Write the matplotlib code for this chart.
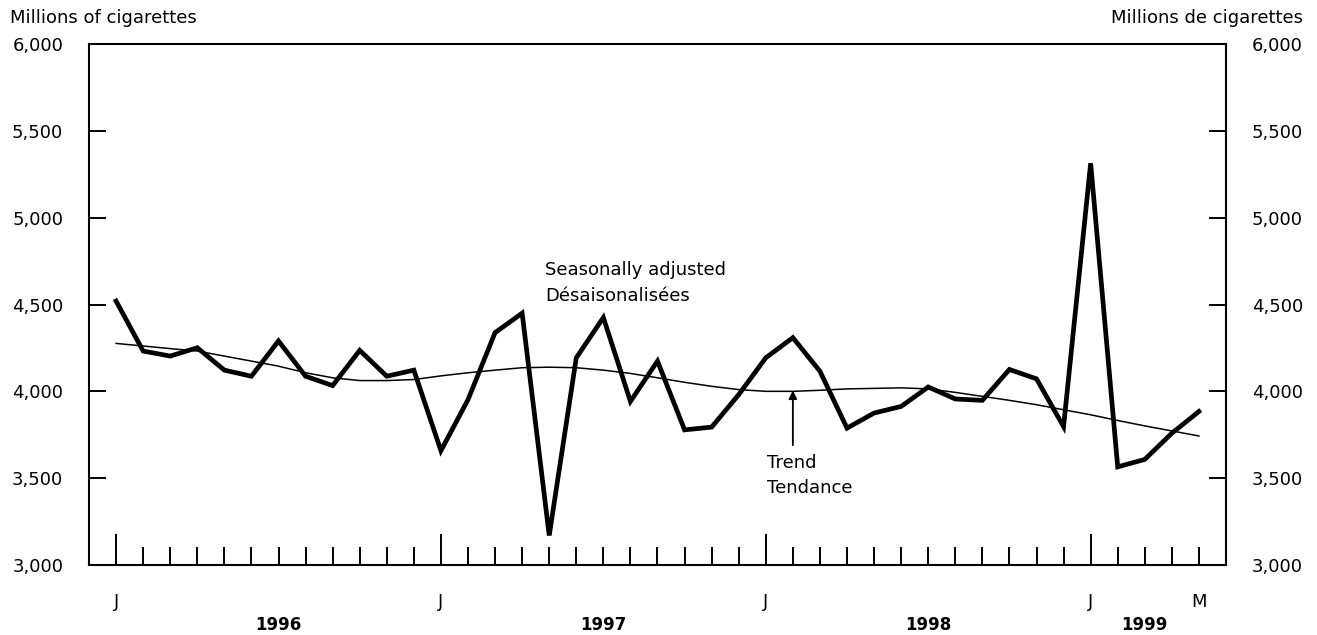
import numpy as np
import matplotlib.pyplot as plt

# monthly data, Jan 1996 .. May 1999
years = [1996, 1997, 1998, 1999]
months_per_year = [12, 12, 12, 5]

seas_adj = [4520, 4232, 4203, 4251, 4122, 4087, 4290, 4087, 4033, 4236, 4087, 4122,
            3658, 3952, 4338, 4450, 3170, 4193, 4425, 3942, 4174, 3778, 3794, 3981,
            4193, 4309, 4116, 3788, 3875, 3913, 4025, 3956, 3948, 4126, 4072, 3797,
            5313, 3565, 3608, 3759, 3884]

trend = [4276, 4261, 4246, 4232, 4203, 4174, 4145, 4107, 4078, 4062, 4062, 4068,
         4089, 4107, 4122, 4136, 4139, 4136, 4122, 4103, 4078, 4052, 4029, 4010,
         4000, 4000, 4006, 4014, 4017, 4020, 4014, 3994, 3971, 3948, 3923, 3894,
         3865, 3832, 3801, 3772, 3743]

plt.rcParams['font.family'] = 'DejaVu Sans'
fs = 13

fig = plt.figure(figsize=(13.17, 6.35), dpi=100)
ax = fig.add_axes([89 / 1317, 1 - 565 / 635, (1226 - 89) / 1317, (565 - 44) / 635])

x = np.arange(len(seas_adj))
ax.plot(x, trend, color='black', lw=1.1, zorder=2)
ax.plot(x, seas_adj, color='black', lw=3.4, solid_joinstyle='miter', zorder=3)

ax.set_xlim(-1, len(x))
ax.set_ylim(3000, 6000)

# x ticks: January long, other months short
jan = [i for i in x if i % 12 == 0]
other = [i for i in x if i % 12 != 0]
ax.set_xticks(jan)
ax.set_xticklabels(['J'] * len(jan))
ax.set_xticks(other, minor=True)
ax.set_xticklabels(['M' if i == x[-1] else '' for i in other], minor=True)
ax.tick_params(axis='x', which='major', direction='in', length=22, width=1.4,
               pad=20, labelsize=fs)
ax.tick_params(axis='x', which='minor', direction='in', length=13, width=1.4,
               pad=20, labelsize=fs)

yt = np.arange(3000, 6001, 500)
ax.set_yticks(yt)
ax.set_yticklabels(['{:,}'.format(v) for v in yt])
ax.tick_params(axis='y', direction='in', length=12, width=1.4, pad=18.5,
               labelsize=fs, right=True, labelright=True)

for s in ax.spines.values():
    s.set_linewidth(1.5)

# year labels under their months
start = 0
for yr, n in zip(years, months_per_year):
    ax.text(start + n // 2, -0.116, str(yr), transform=ax.get_xaxis_transform(),
            ha='center', va='center', fontsize=12, fontweight='bold')
    start += n

fig.text(10 / 1317, 1 - 18 / 635, 'Millions of cigarettes', ha='left', va='center',
         fontsize=fs)
fig.text(1303 / 1317, 1 - 18 / 635, 'Millions de cigarettes', ha='right', va='center',
         fontsize=fs)

ax.text(15.85, 4622, 'Seasonally adjusted\nDésaisonalisées', ha='left', va='center',
        fontsize=fs, linespacing=1.55)

ax.annotate('', xy=(25.0, trend[25] + 5), xytext=(25.0, 3690),
            arrowprops=dict(arrowstyle='-|>', color='black', lw=1.3,
                            mutation_scale=12, shrinkA=0, shrinkB=0))
ax.text(24.05, 3517, 'Trend\nTendance', ha='left', va='center', fontsize=fs,
        linespacing=1.5)

fig.savefig('out.png', dpi=100)
